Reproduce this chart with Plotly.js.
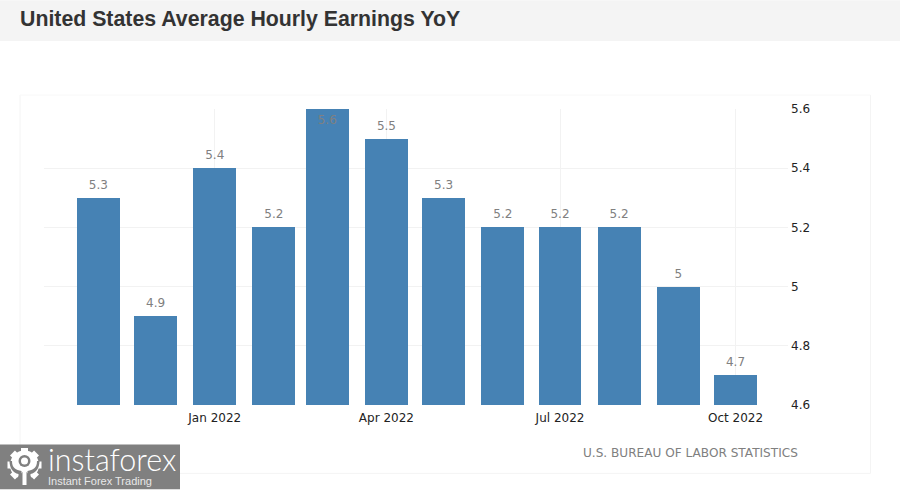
<!DOCTYPE html>
<html>
<head>
<meta charset="utf-8">
<script src="https://cdn.plot.ly/plotly-3.0.1.min.js"></script>
<style>
html,body{margin:0;padding:0;background:#fff;overflow:hidden}
#wrap{position:relative;width:900px;height:490px}
#chart{position:absolute;left:0;top:0;width:900px;height:490px}
#gear{position:absolute;left:6px;top:448px;width:37px;height:37px;pointer-events:none}
</style>
</head>
<body>
<div id="wrap">
<div id="chart"></div>
<svg id="gear" viewBox="0 0 37 37">
  <g fill="#fff">
    <circle cx="18.5" cy="17" r="14.5"/>
    <g id="teeth">
      <rect x="15" y="0" width="7" height="6"/>
      <rect x="15" y="0" width="7" height="6" transform="rotate(45 18.5 17)"/>
      <rect x="15" y="0" width="7" height="6" transform="rotate(90 18.5 17)"/>
      <rect x="15" y="0" width="7" height="6" transform="rotate(135 18.5 17)"/>
      <rect x="15" y="0" width="7" height="6" transform="rotate(225 18.5 17)"/>
      <rect x="15" y="0" width="7" height="6" transform="rotate(270 18.5 17)"/>
      <rect x="15" y="0" width="7" height="6" transform="rotate(315 18.5 17)"/>
    </g>
  </g>
  <path d="M11 30 L11 37 L26 37 L26 30 L20.5 24 L16.5 24 Z" fill="#808080"/>
  <g fill="#808080">
    <path d="M6 13 C6 20 10 22 15.5 23 L15.5 35 L12.5 35 L12.5 26 C7 25 3.5 20 3.5 13 Z" fill="#808080"/>
    <path d="M31 13 C31 20 27 22 21.5 23 L21.5 35 L24.5 35 L24.5 26 C30 25 33.5 20 33.5 13 Z" fill="#808080"/>
  </g>
  <circle cx="18.5" cy="13" r="6" fill="#808080"/>
  <circle cx="18.5" cy="13" r="3.5" fill="#fff"/>
  <rect x="16.5" y="21" width="4" height="16" fill="#fff"/>
</svg>
</div>
<script>
const months = ['2021-11-01','2021-12-01','2022-01-01','2022-02-01','2022-03-01','2022-04-01','2022-05-01','2022-06-01','2022-07-01','2022-08-01','2022-09-01','2022-10-01'];
const earnings = [5.3,4.9,5.4,5.2,5.6,5.5,5.3,5.2,5.2,5.2,5.0,4.7];
const valueLabels = ['5.3','4.9','5.4','5.2','5.6','5.5','5.3','5.2','5.2','5.2','5','4.7'];
const labelPositions = earnings.map(v => v >= 5.6 ? 'bottom center' : 'top center');
const xTickVals = ['2022-01-01','2022-04-01','2022-07-01','2022-10-01'];
const xTickText = ['Jan 2022','Apr 2022','Jul 2022','Oct 2022'];
const yTickVals = [4.6,4.8,5,5.2,5.4,5.6];
const yTickText = ['4.6','4.8','5','5.2','5.4','5.6'];
const DAY = 86400000;
const FONT = '"DejaVu Sans", sans-serif';

const bars = {
  type:'bar', x:months, y:earnings, width:22.5*DAY,
  marker:{color:'#4682b4', line:{width:0}}, hoverinfo:'x+y', showlegend:false
};
const labels = {
  type:'scatter', mode:'markers+text', x:months, y:earnings, text:valueLabels,
  textposition:labelPositions, cliponaxis:false,
  textfont:{family:FONT,size:12,color:'#808080'},
  marker:{size:8,opacity:0}, hoverinfo:'skip', showlegend:false
};
const paperLine = (x0,y0,x1,y1,color) => ({type:'line',xref:'paper',yref:'paper',x0,y0,x1,y1,line:{color,width:1},layer:'below'});
const px = p => (p-44)/744;
const py = p => (405.5-p)/296.5;
const layout = {
  width:900, height:490, paper_bgcolor:'#fff', plot_bgcolor:'#fff',
  margin:{l:44,r:112,t:109,b:84.5,pad:0}, bargap:0, showlegend:false,
  xaxis:{type:'date', range:['2021-10-03 12:00','2022-10-28 12:00'], tickmode:'array', tickvals:xTickVals, ticktext:xTickText,
    showgrid:true, gridcolor:'#f2f2f2', gridwidth:1, zeroline:false, showline:false, ticks:'', ticklen:0, ticklabelstandoff:4,
    tickfont:{family:FONT,size:12,color:'#222'}, automargin:false},
  yaxis:{side:'right', range:[4.6,5.6], tickmode:'array', tickvals:yTickVals, ticktext:yTickText,
    showgrid:true, gridcolor:'#f2f2f2', gridwidth:1, zeroline:false, showline:false, ticks:'', ticklen:0, ticklabelstandoff:2,
    tickfont:{family:FONT,size:12,color:'#222'}, automargin:false},
  shapes:[
    {type:'rect',xref:'paper',yref:'paper',x0:px(0),x1:px(900),y0:py(41),y1:py(0),fillcolor:'#f4f4f4',line:{width:0},layer:'below'},
    paperLine(px(20),py(95),px(20),py(474),'#f4f4f4'),
    paperLine(px(870.5),py(95),px(870.5),py(474),'#f4f4f4'),
    paperLine(px(20),py(474),px(870.5),py(474),'#f4f4f4'),
    paperLine(px(20),py(95),px(870.5),py(95),'#f8f8f8'),
    {type:'rect',xref:'paper',yref:'paper',x0:px(0),x1:px(180),y0:py(490),y1:py(445),fillcolor:'#808080',line:{width:0},layer:'above'}
  ],
  annotations:[
    {xref:'paper',yref:'paper',x:px(17.5),y:py(19),xanchor:'left',yanchor:'middle',showarrow:false,
     text:'<b>United States Average Hourly Earnings YoY</b>',font:{family:'"Liberation Sans",Arial,sans-serif',size:21.3,color:'#333'}},
    {xref:'paper',yref:'paper',x:px(799.5),y:py(454),xanchor:'right',yanchor:'middle',showarrow:false,
     text:'U.S. BUREAU OF LABOR STATISTICS',font:{family:FONT,size:12.1,color:'#808080'}},
    {xref:'paper',yref:'paper',x:px(46),y:py(460),xanchor:'left',yanchor:'middle',showarrow:false,
     text:'instaforex',font:{family:'Lato,"Liberation Sans",sans-serif',size:30.5,weight:300,color:'#fff'}},
    {xref:'paper',yref:'paper',x:px(46),y:py(482),xanchor:'left',yanchor:'middle',showarrow:false,
     text:'Instant Forex Trading',font:{family:'"Liberation Sans",Arial,sans-serif',size:11,color:'#e8e8e8'}}
  ]
};
Plotly.newPlot('chart',[bars,labels],layout,{displayModeBar:false,staticPlot:true});
</script>
</body>
</html>
